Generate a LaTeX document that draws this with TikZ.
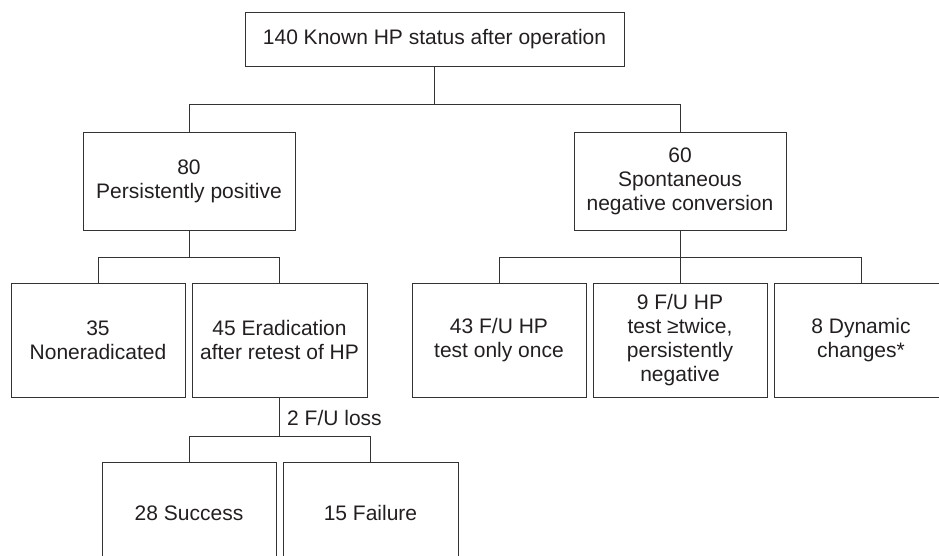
\documentclass[tikz,border=0pt]{standalone}
\usepackage{fontspec}
\setmainfont{Liberation Sans}
\definecolor{ink}{HTML}{231F20}
\definecolor{edge}{HTML}{333333}
\begin{document}
\begin{tikzpicture}[x=1pt,y=-1pt,
  box/.style={draw=edge, line width=0.9pt, rectangle, inner sep=2pt, align=center,
    text=ink, font=\fontsize{21}{24}\selectfont},
  conn/.style={draw=edge, line width=0.9pt},
  lbl/.style={text=ink, font=\fontsize{21}{24}\selectfont, inner sep=0pt}]
\useasboundingbox (0,0) rectangle (939,556);
\clip (0,0) rectangle (939,556);
\node[box, minimum width=379pt, minimum height=54pt] (top) at (434.5,39) {140 Known HP status after operation};
\node[box, minimum width=212pt, minimum height=98pt] (n80) at (189,181) {80\\Persistently positive};
\node[box, minimum width=212pt, minimum height=98pt] (n60) at (680,181) {60\\Spontaneous\\negative conversion};
\node[box, minimum width=174pt, minimum height=114pt] (n35) at (98,340) {35\\Noneradicated};
\node[box, minimum width=175pt, minimum height=114pt] (n45) at (279.5,340) {45 Eradication\\after retest of HP};
\node[box, minimum width=174pt, minimum height=114pt] (n43) at (499,340) {43 F/U HP\\test only once};
\node[box, minimum width=174pt, minimum height=114pt] (n9) at (680,340) {9 F/U HP\\test ≥twice,\\persistently\\negative};
\node[box, minimum width=174pt, minimum height=114pt] (n8) at (861,340) {8 Dynamic\\changes*};
\node[box, minimum width=174pt, minimum height=102pt] (n28) at (189,513) {28 Success};
\node[box, minimum width=175pt, minimum height=102pt] (n15) at (370.5,513) {15 Failure};
\coordinate (b1) at (434.5,104);
\coordinate (b2) at (189,257);
\coordinate (b3) at (680,257);
\coordinate (b4) at (279.5,436);
\draw[conn] (top.south) -- (b1);
\draw[conn] (b1) -| (n80.north);
\draw[conn] (b1) -| (n60.north);
\draw[conn] (n80.south) -- (b2);
\draw[conn] (b2) -| (n35.north);
\draw[conn] (b2) -| (n45.north);
\draw[conn] (n60.south) -- (n9.north);
\draw[conn] (b3) -| (n43.north);
\draw[conn] (b3) -| (n8.north);
\draw[conn] (n45.south) -- (b4);
\draw[conn] (b4) -| (n28.north);
\draw[conn] (b4) -| (n15.north);
\node[lbl, anchor=west] (loss) at (287,418) {2 F/U loss};
\end{tikzpicture}
\end{document}
